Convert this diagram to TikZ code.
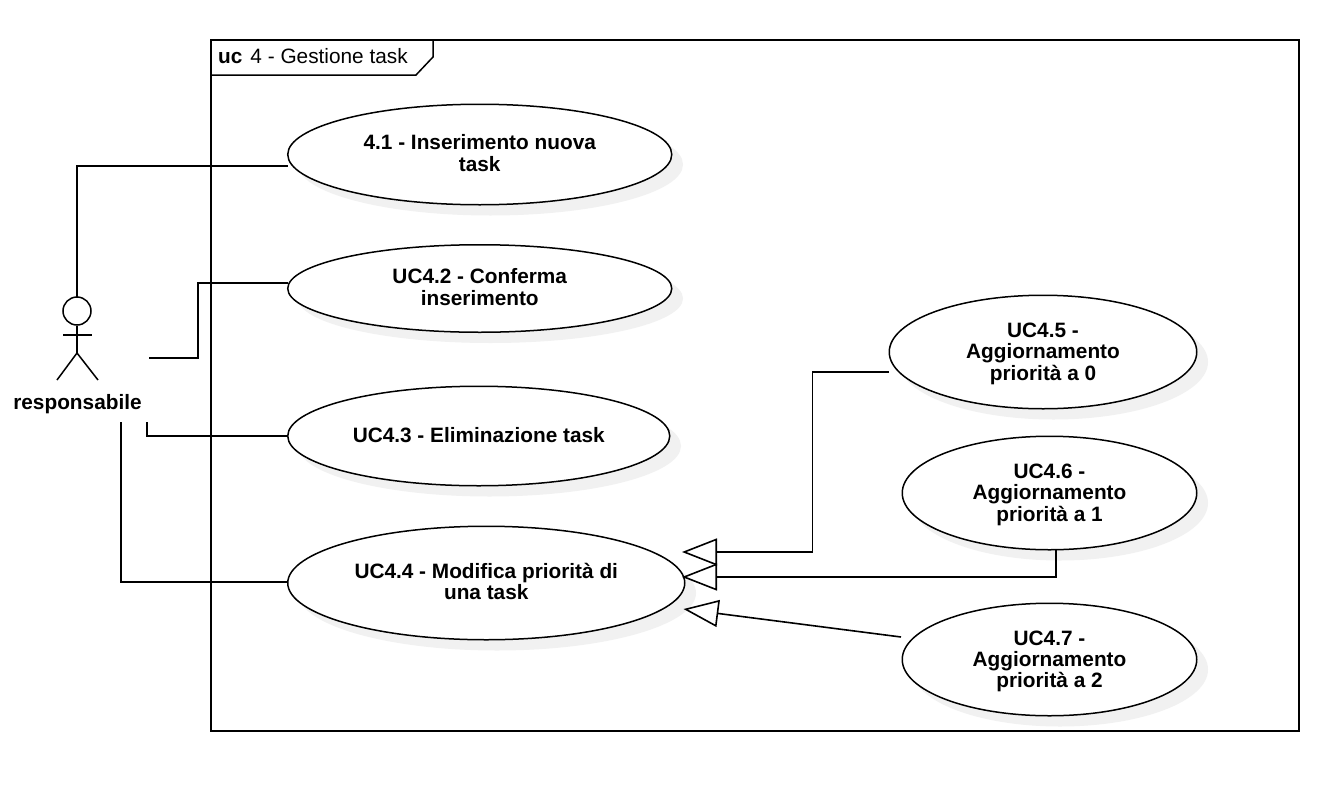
\documentclass[tikz,border=0pt]{standalone}
\usepackage{fontspec}
\setmainfont{Liberation Sans}
\usetikzlibrary{shapes.geometric,arrows.meta}
\definecolor{shade}{HTML}{F1F1F1}
% #1 = height of the strut on the first line, which sets the text's vertical place in the ellipse
\newcommand{\uctext}[2]{\begin{tabular}{@{}c@{}}\rule{0pt}{#1}#2\end{tabular}}
\tikzset{
  x=1pt,y=-1pt,
  uc/.style={ellipse,draw=black,fill=white,line width=1.5pt,inner sep=0pt,
    font=\fontsize{20.8}{21}\selectfont\bfseries},
  ucshadow/.style={ellipse,fill=shade,inner sep=0pt},
  frameline/.style={draw=black,line width=1.5pt},
  link/.style={draw=black,line width=1.6pt},
  gen/.style={link,-{Triangle[open,length=35pt,width=27pt,line width=1.6pt]}},
  stick/.style={draw=black,line width=1.5pt}
}
\begin{document}
\begin{tikzpicture}
\useasboundingbox (0,0) rectangle (1328,790);
\fill[white] (0,0) rectangle (1328,790);
% shadows
\foreach \n/\cx/\cy/\w/\h in {a/490.5/164.5/385/102, b/490.5/298.5/385/89, c/489.5/446/383/101, d/497/593/398/115, f/1053.5/362/309/115, g/1060/503/296/115, h/1060/669.5/296/114}
  \node[ucshadow,minimum width=\w pt,minimum height=\h pt] (s\n) at (\cx,\cy) {};
% frame
\draw[frameline] (211,40) rectangle (1299,731);
\draw[frameline] (211,75) -- (416,75) -- (433,57) -- (433,40);
\node[anchor=base west,inner sep=0pt,font=\fontsize{20.8}{21}\selectfont] (title) at (218,63) {\textbf{uc}\hspace{8pt}4 - Gestione task};
% use cases
\node[uc,minimum width=384pt,minimum height=100.5pt] (e1) at (479.75,154.5) {\uctext{18.3pt}{4.1 - Inserimento nuova\\task}};
\node[uc,minimum width=384pt,minimum height=87.5pt] (e2) at (479.75,288.5) {\uctext{18.3pt}{UC4.2 - Conferma\\inserimento}};
\node[uc,minimum width=382pt,minimum height=99.5pt] (e3) at (478.75,436) {\uctext{18.3pt}{UC4.3 - Eliminazione task}};
\node[uc,minimum width=397pt,minimum height=113.5pt] (e4) at (486.25,583) {\uctext{18.3pt}{UC4.4 - Modifica priorità di\\una task}};
\node[uc,minimum width=307.5pt,minimum height=113.5pt] (e5) at (1043,352) {\uctext{20.3pt}{UC4.5 -\\Aggiornamento\\priorità a 0}};
\node[uc,minimum width=294.5pt,minimum height=113.5pt] (e6) at (1049.5,493) {\uctext{20.3pt}{UC4.6 -\\Aggiornamento\\priorità a 1}};
\node[uc,minimum width=294.5pt,minimum height=112.5pt] (e7) at (1049.5,659.5) {\uctext{20.3pt}{UC4.7 -\\Aggiornamento\\priorità a 2}};
% actor
\node[circle,stick,minimum size=28pt,inner sep=0pt] (head) at (77,311) {};
\coordinate (hip) at (77,353);
\draw[stick] (head.south) -- (hip);
\draw[stick] (63,335) -- (92,335);
\draw[stick] (57,380) -- (hip) -- (98,380);
\node[font=\fontsize{20.8}{21}\selectfont\bfseries,inner sep=0pt] (actor) at (77.5,404) {responsabile};
% connector ends
\coordinate (a1) at (77,297);   \coordinate (t1) at (288,166);
\coordinate (a2) at (149,358);  \coordinate (t2) at (288,283);
\coordinate (a3) at (147,422);  \coordinate (t3) at (288,436);
\coordinate (a4) at (121,422);  \coordinate (t4) at (288,582);
\coordinate (f5) at (889,372);  \coordinate (p5) at (682,552);
\coordinate (f6) at (1056,550); \coordinate (p6) at (682,577);
\coordinate (f7) at (901,637);  \coordinate (p7) at (683.5,609);
% associations
\draw[link] (a1) |- (t1);
\draw[link] (a2) -- (198,358) |- (t2);
\draw[link] (a3) |- (t3);
\draw[link] (a4) |- (t4);
% generalisations
\draw[gen] (f5) -- (812.5,372) |- (p5);
\draw[gen] (f6) |- (p6);
\draw[gen] (f7) -- (p7);
\end{tikzpicture}
\end{document}
